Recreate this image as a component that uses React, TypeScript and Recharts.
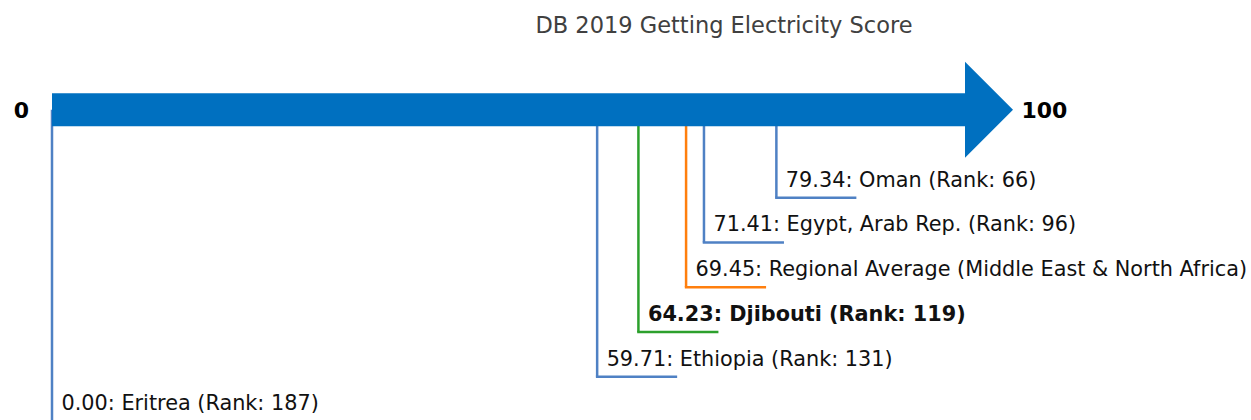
import React from 'react';
import { ComposedChart, Line, XAxis, YAxis } from 'recharts';

// ---- data ----
const names = [
  'Oman',
  'Egypt, Arab Rep.',
  'Regional Average (Middle East & North Africa)',
  'Djibouti',
  'Ethiopia',
  'Eritrea',
];
const scores = [79.34, 71.41, 69.45, 64.23, 59.71, 0.0];
const ranks: (number | null)[] = [66, 96, null, 119, 131, 187];
const kinds = ['peer', 'peer', 'region', 'focus', 'peer', 'peer'];
const scaleEnds = [0, 100];
const title = 'DB 2019 Getting Electricity Score';

// ---- styles ----
const FONT = 'DejaVu Sans';
const ARROW_COLOR = '#0070c0';
const KIND_COLOR: Record<string, string> = {
  peer: '#4f81c4',
  region: '#ff7f0e',
  focus: '#2ca02c',
};
const ARROW_ROW = -0.966;
const SHAFT = 33;
const HEAD_LEN = 48;
const HEAD_HALF = 48;
const LEG_LEN = 80;

const order = scores
  .map((s, i) => i)
  .sort((a, b) => scores[b] - scores[a]);

const entries = order.map((i, k) => ({
  label:
    `${scores[i].toFixed(2)}: ${names[i]}` +
    (ranks[i] != null ? ` (Rank: ${ranks[i]})` : ''),
  score: scores[i],
  row: k + 1,
  kind: kinds[i],
}));

const arrowData = scaleEnds.map((v) => ({ x: v, y: ARROW_ROW, label: String(v) }));

const makeLegDot = (label: string, color: string, bold: boolean) => (props: any) => {
  const { cx, cy, index } = props;
  if (index !== 1 || cx == null || cy == null) return <g key={`d${index}`} />;
  return (
    <g key={`d${index}`}>
      <line x1={cx - 1.25} y1={cy} x2={cx + LEG_LEN} y2={cy} stroke={color} strokeWidth={2.5} />
      <text
        x={cx + 9.5}
        y={cy - 11}
        fontSize={20.8}
        fontFamily={FONT}
        fontWeight={bold ? 'bold' : 'normal'}
        fill="#111"
      >
        {label}
      </text>
    </g>
  );
};

const arrowDot = (props: any) => {
  const { cx, cy, index, payload } = props;
  if (cx == null || cy == null) return <g key={`a${index}`} />;
  if (index === 0) {
    return (
      <g key={`a${index}`}>
        <text x={cx - 23} y={cy + 7.8} textAnchor="end" fontSize={22} fontWeight="bold" fontFamily={FONT} fill="#000">
          {payload.label}
        </text>
      </g>
    );
  }
  return (
    <g key={`a${index}`}>
      <polygon
        points={`${cx},${cy - HEAD_HALF} ${cx + HEAD_LEN},${cy} ${cx},${cy + HEAD_HALF}`}
        fill={ARROW_COLOR}
      />
      <text x={cx + HEAD_LEN + 8.5} y={cy + 7.8} textAnchor="start" fontSize={22} fontWeight="bold" fontFamily={FONT} fill="#000">
        {payload.label}
      </text>
    </g>
  );
};

export default function App() {
  return (
    <div style={{ width: 1251, height: 420 }}>
      <style>{'body{margin:0}'}</style>
      <ComposedChart
        width={1251}
        height={420}
        margin={{ top: 63.45, right: 286, bottom: -1.45, left: 52 }}
      >
        <XAxis type="number" dataKey="x" domain={[0, 100]} hide />
        <YAxis type="number" dataKey="y" domain={[-2, 6]} reversed hide />
        {entries.map((e, k) => (
          <Line
            key={`leg${k}`}
            data={[
              { x: e.score, y: ARROW_ROW },
              { x: e.score, y: e.row },
            ]}
            dataKey="y"
            stroke={KIND_COLOR[e.kind]}
            strokeWidth={2.5}
            dot={makeLegDot(e.label, KIND_COLOR[e.kind], e.kind === 'focus')}
            activeDot={false}
            isAnimationActive={false}
          />
        ))}
        <Line
          data={arrowData}
          dataKey="y"
          stroke={ARROW_COLOR}
          strokeWidth={SHAFT}
          strokeLinecap="butt"
          dot={arrowDot}
          activeDot={false}
          isAnimationActive={false}
        />
        <text x={724} y={33} textAnchor="middle" fontSize={22.5} fontFamily={FONT} fill="#404040">
          {title}
        </text>
      </ComposedChart>
    </div>
  );
}
